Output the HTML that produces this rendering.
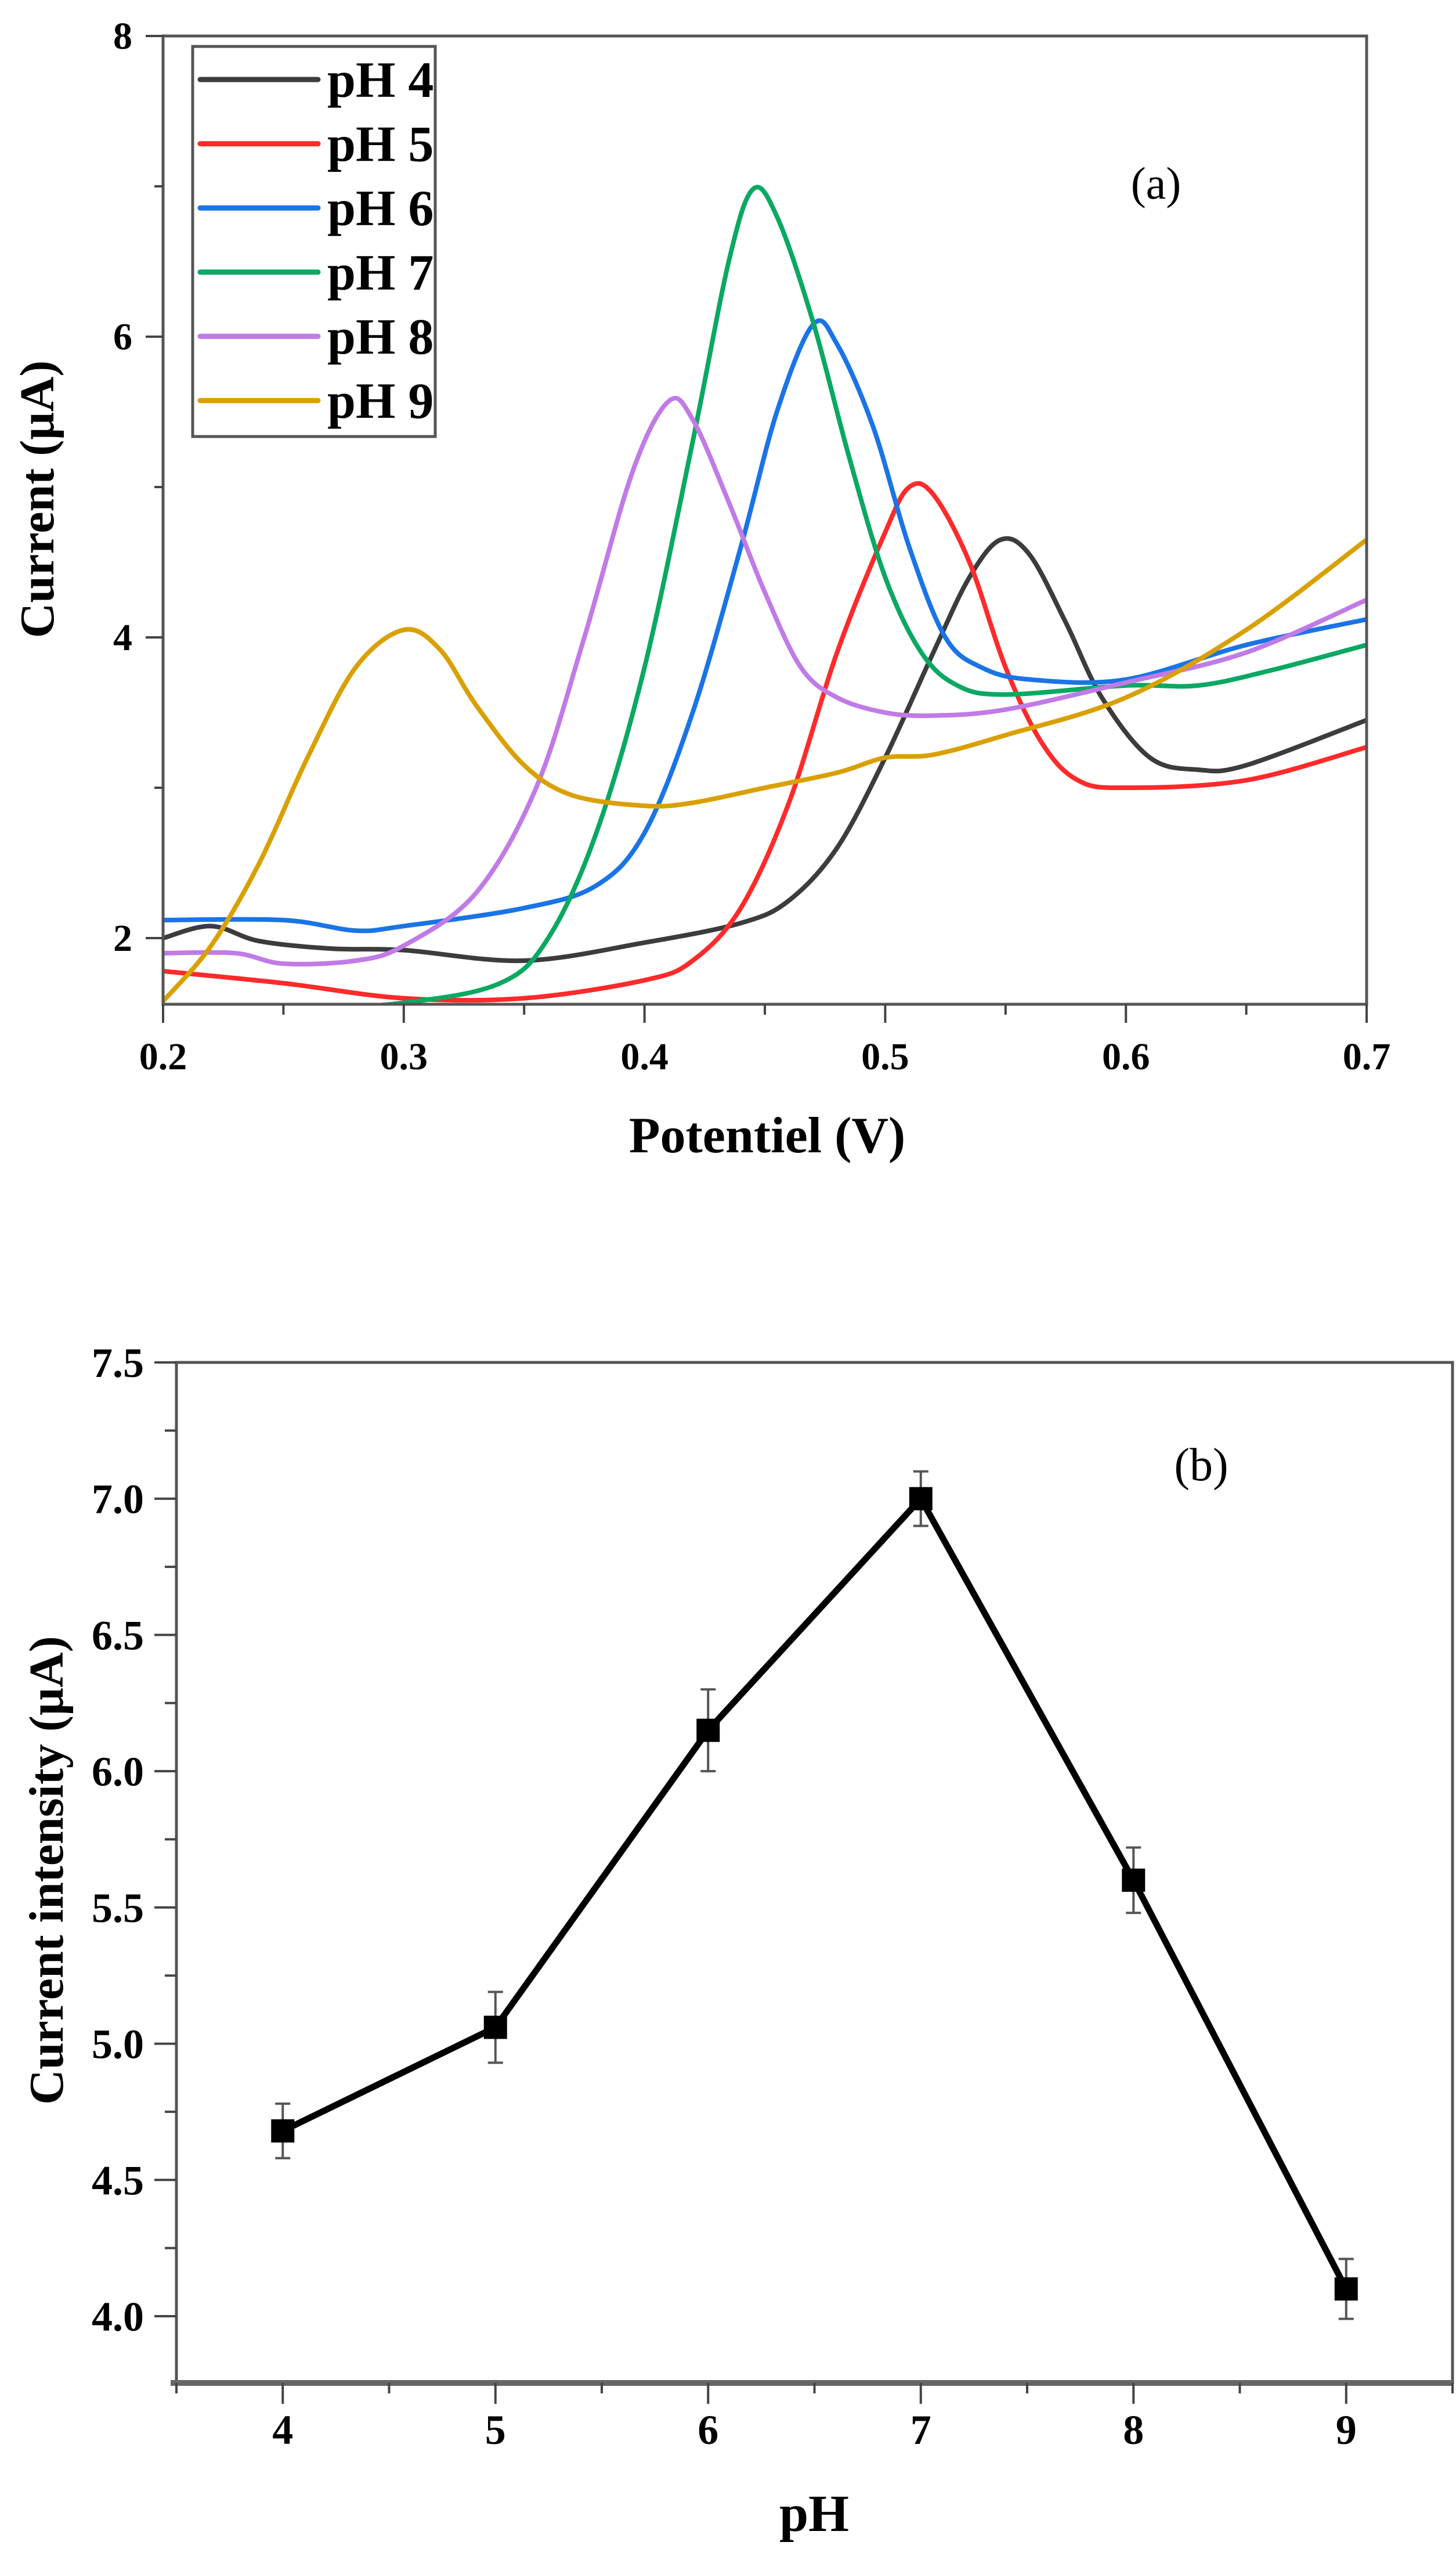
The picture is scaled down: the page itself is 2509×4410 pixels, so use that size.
<!DOCTYPE html>
<html><head><meta charset="utf-8">
<style>
html,body{margin:0;padding:0;background:#fff;}
svg{display:block;}
text{font-family:"Liberation Serif",serif;font-weight:bold;fill:#000;}
</style></head>
<body>
<svg id="fig" width="2509" height="4410" viewBox="0 0 2509 4410" xmlns="http://www.w3.org/2000/svg">
<g id="panelA"></g>
<g id="panelB"></g>
</svg>
<script>
// ---------- Panel (a) data ----------
const seriesNames = ["pH 4","pH 5","pH 6","pH 7","pH 8","pH 9"];
const seriesColors = ["#3c3c3c","#ff2a2a","#1a74e6","#0aa862","#c07be6","#d9a000"];
const ph4X = [0.2,0.22,0.24,0.27,0.3,0.35,0.4,0.44,0.46,0.48,0.5,0.52,0.535,0.548,0.56,0.575,0.59,0.61,0.63,0.65,0.7];
const ph4Y = [2.0,2.08,1.98,1.93,1.92,1.85,1.97,2.1,2.25,2.6,3.2,3.9,4.4,4.65,4.55,4.1,3.6,3.2,3.12,3.15,3.45];
const ph5X = [0.2,0.25,0.3,0.35,0.4,0.42,0.44,0.46,0.48,0.5,0.51,0.52,0.535,0.55,0.565,0.58,0.6,0.65,0.7];
const ph5Y = [1.78,1.7,1.6,1.6,1.72,1.85,2.2,2.9,3.9,4.7,5.0,4.95,4.5,3.8,3.3,3.05,3.0,3.05,3.27];
const ph6X = [0.2,0.25,0.28,0.3,0.35,0.38,0.4,0.42,0.44,0.455,0.47,0.48,0.495,0.51,0.525,0.54,0.56,0.6,0.65,0.7];
const ph6Y = [2.12,2.12,2.05,2.08,2.2,2.35,2.7,3.5,4.6,5.5,6.08,5.95,5.4,4.6,4.0,3.8,3.72,3.72,3.95,4.12];
const ph7X = [0.2,0.25,0.3,0.34,0.36,0.38,0.4,0.42,0.435,0.445,0.455,0.47,0.485,0.5,0.515,0.53,0.55,0.6,0.63,0.66,0.7];
const ph7Y = [1.48,1.52,1.57,1.7,2.0,2.7,3.8,5.3,6.5,6.98,6.8,6.1,5.2,4.4,3.9,3.68,3.62,3.68,3.68,3.78,3.95];
const ph8X = [0.2,0.23,0.25,0.28,0.3,0.33,0.355,0.375,0.395,0.41,0.42,0.435,0.45,0.465,0.48,0.5,0.52,0.55,0.6,0.65,0.7];
const ph8Y = [1.9,1.9,1.83,1.85,1.95,2.3,3.0,4.0,5.1,5.57,5.45,4.9,4.3,3.8,3.6,3.5,3.48,3.52,3.7,3.9,4.25];
const ph9X = [0.2,0.22,0.24,0.26,0.28,0.3,0.315,0.33,0.35,0.37,0.4,0.42,0.45,0.48,0.5,0.52,0.55,0.6,0.65,0.7];
const ph9Y = [1.58,1.95,2.5,3.2,3.8,4.05,3.92,3.55,3.15,2.95,2.88,2.9,3.0,3.1,3.2,3.22,3.35,3.6,4.05,4.65];
const aXTicks = [0.2,0.3,0.4,0.5,0.6,0.7];
const aXTickLabels = ["0.2","0.3","0.4","0.5","0.6","0.7"];
const aYTicks = [2,4,6,8];
const aYTickLabels = ["2","4","6","8"];

// ---------- Panel (b) data ----------
const phValues = [4,5,6,7,8,9];
const currentValues = [4.68,5.06,6.15,7.0,5.6,4.1];
const errorValues = [0.1,0.13,0.15,0.1,0.12,0.11];
const bXTicks = [4,5,6,7,8,9];
const bXTickLabels = ["4","5","6","7","8","9"];
const bYTicks = [4.0,4.5,5.0,5.5,6.0,6.5,7.0,7.5];
const bYTickLabels = ["4.0","4.5","5.0","5.5","6.0","6.5","7.0","7.5"];

const NS = "http://www.w3.org/2000/svg";
function mk(tag, attrs, parent){
  const e = document.createElementNS(NS, tag);
  for (const k in attrs) e.setAttribute(k, attrs[k]);
  parent.appendChild(e);
  return e;
}

// ---------- Panel (a) ----------
const A = {l:281, r:2355, t:62, b:1730, xmin:0.2, xmax:0.7, ymin:1.56, ymax:8};
const ax = v => A.l + (v - A.xmin)/(A.xmax - A.xmin)*(A.r - A.l);
const ay = v => A.b - (v - A.ymin)/(A.ymax - A.ymin)*(A.b - A.t);
const gA = document.getElementById('panelA');

const defs = mk('defs', {}, gA);
const cp = mk('clipPath', {id:'clipA'}, defs);
mk('rect', {x:A.l, y:A.t, width:A.r-A.l, height:A.b-A.t}, cp);

function smoothPath(xs, ys, fx, fy){
  const p = xs.map((x,i)=>[fx(x), fy(ys[i])]);
  let d = `M${p[0][0]},${p[0][1]}`;
  for (let i=0;i<p.length-1;i++){
    const p0 = p[i-1]||p[i], p1=p[i], p2=p[i+1], p3=p[i+2]||p[i+1];
    const c1x = p1[0]+(p2[0]-p0[0])/6, c1y = p1[1]+(p2[1]-p0[1])/6;
    const c2x = p2[0]-(p3[0]-p1[0])/6, c2y = p2[1]-(p3[1]-p1[1])/6;
    d += ` C${c1x},${c1y} ${c2x},${c2y} ${p2[0]},${p2[1]}`;
  }
  return d;
}

const allX = [ph4X,ph5X,ph6X,ph7X,ph8X,ph9X];
const allY = [ph4Y,ph5Y,ph6Y,ph7Y,ph8Y,ph9Y];
const curveG = mk('g', {'clip-path':'url(#clipA)'}, gA);


allX.forEach((xs, i) => {
  const path = mk('path', {d:smoothPath(xs, allY[i], ax, ay), fill:'none', stroke:seriesColors[i], 'stroke-width':8, 'stroke-linejoin':'round'}, curveG);
  
  
});

const frameA = mk('rect', {x:A.l, y:A.t, width:A.r-A.l, height:A.b-A.t, fill:'none', stroke:'#555', 'stroke-width':5}, gA);


for (let v=0.2; v<=0.7001; v+=0.05){
  const major = Math.abs(Math.round(v*10)-v*10) < 1e-6;
  const t = mk('line', {x1:ax(v), x2:ax(v), y1:A.b, y2:A.b+(major?32:18), stroke:'#444', 'stroke-width':4}, gA);
  
  
}
aXTicks.forEach((v,i)=>{
  const t = mk('text', {x:ax(v), y:1842, 'font-size':66, 'text-anchor':'middle'}, gA);
  t.textContent = aXTickLabels[i];
  
  
});
for (let v=2; v<=8; v+=1){
  const major = v%2===0;
  const t = mk('line', {x1:A.l-(major?30:15), x2:A.l, y1:ay(v), y2:ay(v), stroke:'#444', 'stroke-width':4}, gA);
  
  
}
aYTicks.forEach((v,i)=>{
  const t = mk('text', {x:228, y:ay(v)+22, 'font-size':66, 'text-anchor':'end'}, gA);
  t.textContent = aYTickLabels[i];
  
  
});
const xtA = mk('text', {x:1322, y:1985, 'font-size':88, 'text-anchor':'middle'}, gA);
xtA.textContent = 'Potentiel (V)';


const ytA = mk('text', {x:0, y:0, 'font-size':84, 'text-anchor':'middle', transform:'translate(92,860) rotate(-90)'}, gA);
ytA.textContent = 'Current (µA)';


const labA = mk('text', {x:1992, y:342, 'font-size':78, 'text-anchor':'middle', style:'font-weight:normal'}, gA);
labA.textContent = '(a)';


const leg = mk('g', {}, gA);


mk('rect', {x:332, y:80, width:418, height:672, fill:'#fff', stroke:'#555', 'stroke-width':5}, leg);
seriesNames.forEach((n,i)=>{
  const y = 137 + i*110.6;
  const entry = mk('g', {}, leg);
  
  
  mk('line', {x1:345, x2:548, y1:y, y2:y, stroke:seriesColors[i], 'stroke-width':9, 'stroke-linecap':'round'}, entry);
  const t = mk('text', {x:564, y:y+30, 'font-size':88}, entry);
  t.textContent = n;
});

// ---------- Panel (b) ----------
const B = {l:304, r:2503, t:2347, b:4105, xmin:3.5, xmax:9.5, ymin:3.755, ymax:7.5};
const bx = v => B.l + (v - B.xmin)/(B.xmax - B.xmin)*(B.r - B.l);
const by = v => B.b - (v - B.ymin)/(B.ymax - B.ymin)*(B.b - B.t);
const gB = document.getElementById('panelB');

const frameB = mk('rect', {x:B.l, y:B.t, width:B.r-B.l, height:B.b-B.t, fill:'none', stroke:'#555', 'stroke-width':5}, gB);


mk('line', {x1:B.l-10, x2:B.r, y1:B.b, y2:B.b, stroke:'#666', 'stroke-width':10}, gB);
for (let v=3.5; v<=9.5001; v+=0.5){
  const major = Math.abs(v-Math.round(v))<1e-6;
  const t = mk('line', {x1:bx(v), x2:bx(v), y1:B.b, y2:B.b+(major?36:18), stroke:'#444', 'stroke-width':4}, gB);
  
  
}
bXTicks.forEach((v,i)=>{
  const t = mk('text', {x:bx(v), y:4210, 'font-size':72, 'text-anchor':'middle'}, gB);
  t.textContent = bXTickLabels[i];
  
  
});
for (let v=4.0; v<=7.5001; v+=0.25){
  const major = Math.abs(v*2-Math.round(v*2))<1e-6;
  const t = mk('line', {x1:B.l-(major?38:20), x2:B.l, y1:by(v), y2:by(v), stroke:'#444', 'stroke-width':4}, gB);
  
  
}
bYTicks.forEach((v,i)=>{
  const t = mk('text', {x:248, y:by(v)+25, 'font-size':72, 'text-anchor':'end'}, gB);
  t.textContent = bYTickLabels[i];
  
  
});
const xtB = mk('text', {x:1403, y:4360, 'font-size':90, 'text-anchor':'middle'}, gB);
xtB.textContent = 'pH';


const ytB = mk('text', {x:0, y:0, 'font-size':84, 'text-anchor':'middle', transform:'translate(108,3222) rotate(-90)'}, gB);
ytB.textContent = 'Current intensity (µA)';


const labB = mk('text', {x:2070, y:2550, 'font-size':80, 'text-anchor':'middle', style:'font-weight:normal'}, gB);
labB.textContent = '(b)';



phValues.forEach((p,i)=>{
  const g = mk('g', {stroke:'#555', 'stroke-width':4}, gB);
  
  
  const x = bx(p), y1 = by(currentValues[i]+errorValues[i]), y2 = by(currentValues[i]-errorValues[i]);
  mk('line', {x1:x, x2:x, y1:y1, y2:y2}, g);
  mk('line', {x1:x-13, x2:x+13, y1:y1, y2:y1}, g);
  mk('line', {x1:x-13, x2:x+13, y1:y2, y2:y2}, g);
});
const pts = phValues.map((p,i)=>bx(p)+','+by(currentValues[i])).join(' ');
const pl = mk('polyline', {points:pts, fill:'none', stroke:'#000', 'stroke-width':11, 'stroke-linejoin':'round'}, gB);


phValues.forEach((p,i)=>{
  const r = mk('rect', {x:bx(p)-20, y:by(currentValues[i])-20, width:40, height:40, fill:'#000'}, gB);
  
  
});
</script>
</body></html>
